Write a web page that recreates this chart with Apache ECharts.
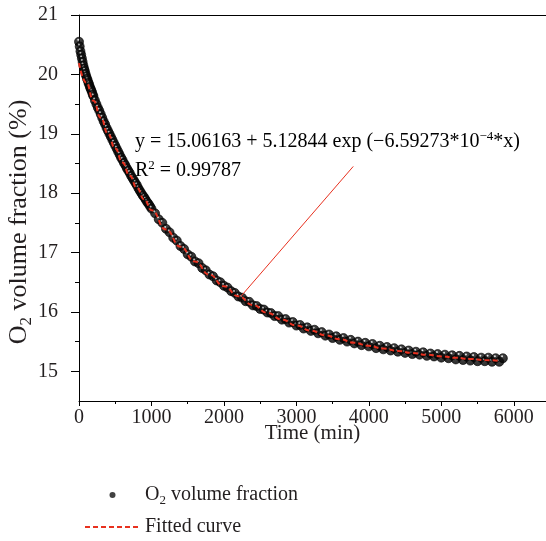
<!DOCTYPE html>
<html><head><meta charset="utf-8">
<script src="https://cdn.jsdelivr.net/npm/echarts@6/dist/echarts.min.js"></script>
<style>html,body{margin:0;padding:0;background:#fff}#c{width:546px;height:541px}</style>
</head><body><div id="c"></div>
<script>
// Measured O2 volume fraction (%) vs time (min)
const timeMin = [0,10,20,30,40,50,60,70,80,90,100,110,120,130,140,150,160,170,180,190,200,220,240,260,280,300,320,340,360,380,400,420,440,460,480,500,520,540,560,580,600,620,640,660,680,700,720,740,760,780,800,820,840,860,880,900,920,940,960,980,1000,
1050,1100,1150,1200,1250,1300,1350,1400,1450,1500,1550,1600,1650,1700,1750,1800,1850,1900,1950,2000,
2050,2100,2150,2200,2250,2300,2350,2400,2450,2500,2550,2600,2650,2700,2750,2800,2850,2900,2950,3000,
3050,3100,3150,3200,3250,3300,3350,3400,3450,3500,3550,3600,3650,3700,3750,3800,3850,3900,3950,4000,
4050,4100,4150,4200,4250,4300,4350,4400,4450,4500,4550,4600,4650,4700,4750,4800,4850,4900,4950,5000,
5050,5100,5150,5200,5250,5300,5350,5400,5450,5500,5550,5600,5650,5700,5750,5800,5850];
const o2Fraction = [20.55,20.47,20.39,20.33,20.27,20.21,20.15,20.10,20.06,20.01,19.97,19.93,19.90,19.86,19.83,19.79,19.76,19.73,19.70,19.66,19.63,19.56,19.50,19.44,19.39,19.33,19.27,19.21,19.16,19.10,19.05,19.00,18.95,18.90,18.85,18.80,18.75,18.70,18.65,18.60,18.56,18.51,18.47,18.42,18.38,18.34,18.29,18.25,18.21,18.17,18.13,18.08,18.04,18.00,17.96,17.93,17.89,17.85,17.82,17.78,17.74,
17.66,17.56,17.50,17.40,17.34,17.25,17.20,17.11,17.06,16.97,16.93,16.85,16.82,16.74,16.70,16.63,16.60,16.53,16.50,16.44,
16.41,16.35,16.32,16.26,16.24,16.18,16.17,16.11,16.10,16.05,16.04,15.99,15.98,15.93,15.93,15.87,15.88,15.82,15.83,15.77,
15.78,15.72,15.74,15.68,15.70,15.64,15.66,15.60,15.62,15.56,15.59,15.53,15.56,15.50,15.53,15.47,15.50,15.44,15.48,15.42,
15.46,15.39,15.43,15.37,15.41,15.35,15.39,15.33,15.37,15.31,15.35,15.29,15.33,15.28,15.32,15.26,15.30,15.25,15.29,15.23,
15.28,15.22,15.27,15.20,15.26,15.19,15.25,15.18,15.24,15.17,15.23,15.17,15.23,15.16,15.22,15.16,15.22];
// Fitted curve values
const fitTime = [0,100,200,300,400,500,600,700,800,900,1000,1200,1400,1600,1800,2000,2200,2400,2600,2800,3000,3200,3400,3600,3800,4000,4200,4400,4600,4800,5000,5200,5400,5600,5800];
const fitValue = [20.190,19.863,19.556,19.270,19.001,18.750,18.515,18.294,18.088,17.895,17.714,17.387,17.099,16.848,16.627,16.434,16.264,16.116,15.985,15.871,15.771,15.684,15.607,15.539,15.480,15.429,15.383,15.344,15.309,15.278,15.251,15.228,15.207,15.189,15.174];
// Axis ticks
const xMajorTicks = [0,1000,2000,3000,4000,5000,6000];
const xMinorTicks = [500,1500,2500,3500,4500,5500];
const yMajorTicks = [15,16,17,18,19,20,21];
const yMinorTicks = [15.5,16.5,17.5,18.5,19.5,20.5];
// Annotation pointer (data coords)
const annotationLine = [[2233,16.26],[3785,18.45]];
const equationLine = '{a|y = 15.06163 + 5.12844 exp (\u22126.59273*10}{p|\u22124}{a|*x)}';
const r2Line = '{a|R}{p|2}{a| = 0.99787}';

const FONT = "'Liberation Serif','Times New Roman',serif";
const TXT = '#231f20';
const RED = '#e8311f';
const FS = 20;
const richBase = {
  a: {fontFamily: FONT, fontSize: FS, color: TXT, lineHeight: 22},
  s: {fontFamily: FONT, fontSize: 13, color: TXT, lineHeight: 22, padding: [11,0,0,0]},
  p: {fontFamily: FONT, fontSize: 13, color: TXT, lineHeight: 22, padding: [0,0,10,0]}
};
const richTitle = {
  a: {fontFamily: FONT, fontSize: 26, color: TXT, lineHeight: 29},
  s: {fontFamily: FONT, fontSize: 17, color: TXT, lineHeight: 29, padding: [15,0,0,0]}
};
const plainNum = v => String(v);

const chart = echarts.init(document.getElementById('c'), null, {renderer: 'canvas'});
const gridRect = {left: 79, right: 0, top: 15, bottom: 140, containLabel: false, outerBoundsMode: 'none'};
const xBase = {type: 'value', min: 0, max: 6445, splitLine: {show: false}};
const yBase = {type: 'value', min: 14.5, max: 21, splitLine: {show: false}};
const blackLine = {show: true, onZero: false, lineStyle: {color: '#000', width: 1}};

chart.setOption({
  animation: false,
  backgroundColor: '#fff',
  grid: [Object.assign({}, gridRect), Object.assign({}, gridRect)],
  xAxis: [
    Object.assign({}, xBase, {
      gridIndex: 0, position: 'bottom',
      axisLine: blackLine,
      axisTick: {show: true, length: 5, lineStyle: {color: '#000'}, customValues: xMajorTicks},
      axisLabel: {customValues: xMajorTicks, formatter: plainNum, margin: 7, fontFamily: FONT, fontSize: FS, color: TXT},
      name: 'Time (min)', nameLocation: 'middle', nameGap: 22, nameMoveOverlap: false,
      nameTextStyle: {fontFamily: FONT, fontSize: 21, color: TXT, verticalAlign: 'top'}
    }),
    Object.assign({}, xBase, {
      gridIndex: 0, position: 'top',
      axisLine: blackLine,
      axisTick: {show: false},
      axisLabel: {show: false}
    }),
    Object.assign({}, xBase, {
      gridIndex: 1, position: 'bottom',
      axisLine: {show: false, onZero: false},
      axisTick: {show: true, length: 3, lineStyle: {color: '#000'}, customValues: xMinorTicks},
      axisLabel: {show: false}
    })
  ],
  yAxis: [
    Object.assign({}, yBase, {
      gridIndex: 0, position: 'left',
      axisLine: blackLine,
      axisTick: {show: true, length: 8, lineStyle: {color: '#000'}, customValues: yMajorTicks},
      axisLabel: {customValues: yMajorTicks, formatter: plainNum, margin: 21, fontFamily: FONT, fontSize: FS, color: TXT},
      name: '{a|O}{s|2}{a| volume fraction (%)}', nameLocation: 'middle', nameGap: 45, nameMoveOverlap: false,
      nameTextStyle: {rich: richTitle, padding: [0, 28, 0, 0]}
    }),
    Object.assign({}, yBase, {
      gridIndex: 1, position: 'left',
      axisLine: {show: false, onZero: false},
      axisTick: {show: true, length: 4, lineStyle: {color: '#000'}, customValues: yMinorTicks},
      axisLabel: {show: false}
    })
  ],
  legend: {
    orient: 'vertical', left: 84, top: 483, padding: 0,
    itemWidth: 55, itemHeight: 6, itemGap: 10,
    data: [
      {name: 'O2 volume fraction', icon: 'circle', itemStyle: {color: '#111', borderWidth: 0}},
      {name: 'Fitted curve', itemStyle: {opacity: 0}}
    ],
    formatter: function (n) {
      return n === 'O2 volume fraction' ? '{a|O}{s|2}{a| volume fraction}' : '{a|' + n + '}';
    },
    textStyle: {rich: richBase}
  },
  graphic: [
    {type: 'text', left: 135, top: 130, style: {text: equationLine, rich: richBase}},
    {type: 'text', left: 135, top: 159, style: {text: r2Line, rich: richBase}}
  ],
  series: [
    {
      name: 'O2 volume fraction', type: 'scatter', xAxisIndex: 0, yAxisIndex: 0,
      symbol: 'circle', symbolSize: 9,
      data: timeMin.map((t, i) => [t, o2Fraction[i]]),
      itemStyle: {
        color: new echarts.graphic.RadialGradient(0.42, 0.3, 0.5, [
          {offset: 0, color: '#ffffff'},
          {offset: 0.13, color: '#b8b8b8'},
          {offset: 0.28, color: '#141414'},
          {offset: 1, color: '#000000'}
        ]),
        borderColor: '#000', borderWidth: 0.8
      }
    },
    {
      name: 'Fitted curve', type: 'line', xAxisIndex: 0, yAxisIndex: 0,
      data: fitTime.map((t, i) => [t, fitValue[i]]),
      smooth: true, smoothMonotone: 'x', showSymbol: false, symbol: 'none',
      lineStyle: {color: RED, width: 2, type: [5, 3]},
      itemStyle: {color: RED},
      markLine: {
        silent: true, symbol: 'none', animation: false,
        label: {show: false},
        lineStyle: {color: RED, width: 1, type: 'solid'},
        data: [[{coord: annotationLine[0]}, {coord: annotationLine[1]}]]
      }
    }
  ]
});
</script>
</body></html>
